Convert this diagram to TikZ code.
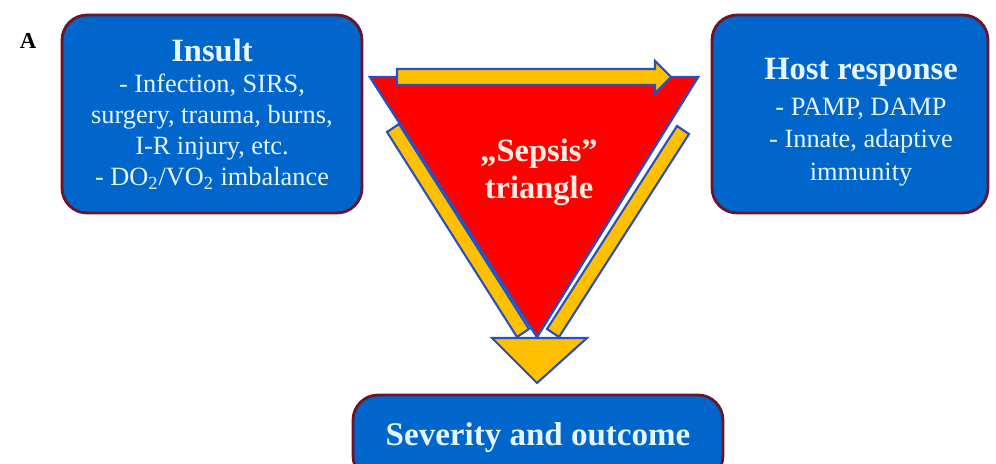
\documentclass[tikz,border=0pt]{standalone}
\usepackage{fontspec}
\setmainfont{Liberation Serif}
\usetikzlibrary{arrows,shapes}
\definecolor{boxblue}{RGB}{0,102,204}
\definecolor{boxrim}{RGB}{110,20,40}
\definecolor{paletext}{RGB}{230,245,255}
\definecolor{bandyellow}{RGB}{255,192,0}
\definecolor{rimblue}{RGB}{40,80,190}
\definecolor{pinktext}{RGB}{255,235,225}
\tikzstyle{band edge} = [draw=rimblue,fill=bandyellow,line width=1.2pt,line join=miter]
\tikzstyle{title} = [font=\fontsize{18.5}{21}\selectfont\bfseries]

\begin{document}
\begin{tikzpicture}
[x=0.02cm,y=-0.02cm,%
bigbox/.style={shape=rectangle,rounded corners=0.5cm,draw=boxrim,line width=1.6pt,fill=boxblue,
  text=paletext,align=center,font=\fontsize{15}{17.6}\selectfont},
boxtext/.style={text=paletext,align=center,font=\fontsize{15}{18.5}\selectfont},
wedge/.style={draw=rimblue,fill=red,line width=1.4pt,line join=miter}]

\useasboundingbox (0,0) rectangle (996,463);

%% panel letter
\node (panel) at (28,41) {\fontsize{13}{15}\selectfont\bfseries A};

%% boxes
\node (insult) at (212,114) [bigbox,minimum width=6cm,minimum height=3.96cm]
{{\fontsize{18.5}{22}\selectfont\bfseries Insult}\\
- Infection, SIRS,\\ surgery, trauma, burns,\\ I-R injury, etc.\\
- DO\textsubscript{2}/VO\textsubscript{2} imbalance};

\node (host) at (850,114) [bigbox,minimum width=5.52cm,minimum height=3.96cm] {};
\node (host text) at (861,122) [boxtext]
{{\fontsize{18.5}{22}\selectfont\bfseries Host response}\\[2pt]
- PAMP, DAMP\\ - Innate, adaptive\\ immunity};

\node (outcome) at (538,438) [bigbox,minimum width=7.4cm,minimum height=1.72cm]
{{\fontsize{18.8}{22}\selectfont\bfseries Severity and outcome}};

%% triangle
\coordinate (tl) at (370,77);
\coordinate (tr) at (698,77);
\coordinate (tb) at (537,337);
\draw[wedge] (tl) -- (tr) -- (tb) -- cycle;

\node (sepsis) at (539,172) [title,text=pinktext,align=center] {„Sepsis”\\triangle};

%% bands along the sides
\foreach \ax/\ay/\bx/\by/\cx/\cy/\dx/\dy in {
399/124/387/132/517/337/529/329, 689/134/677/126/547/329/559/337}
{
\draw[band edge] (\ax,\ay) -- (\bx,\by) -- (\cx,\cy) -- (\dx,\dy) -- cycle;
}

%% arrow on top
\draw[band edge] (397,69) -- (655,69) -- (655,61) -- (671,77) -- (655,93) -- (655,85) -- (397,85) -- cycle;

%% arrow tip at the bottom
\draw[band edge] (492,338) -- (587,338) -- (537,383) -- cycle;

\end{tikzpicture}
\end{document}
